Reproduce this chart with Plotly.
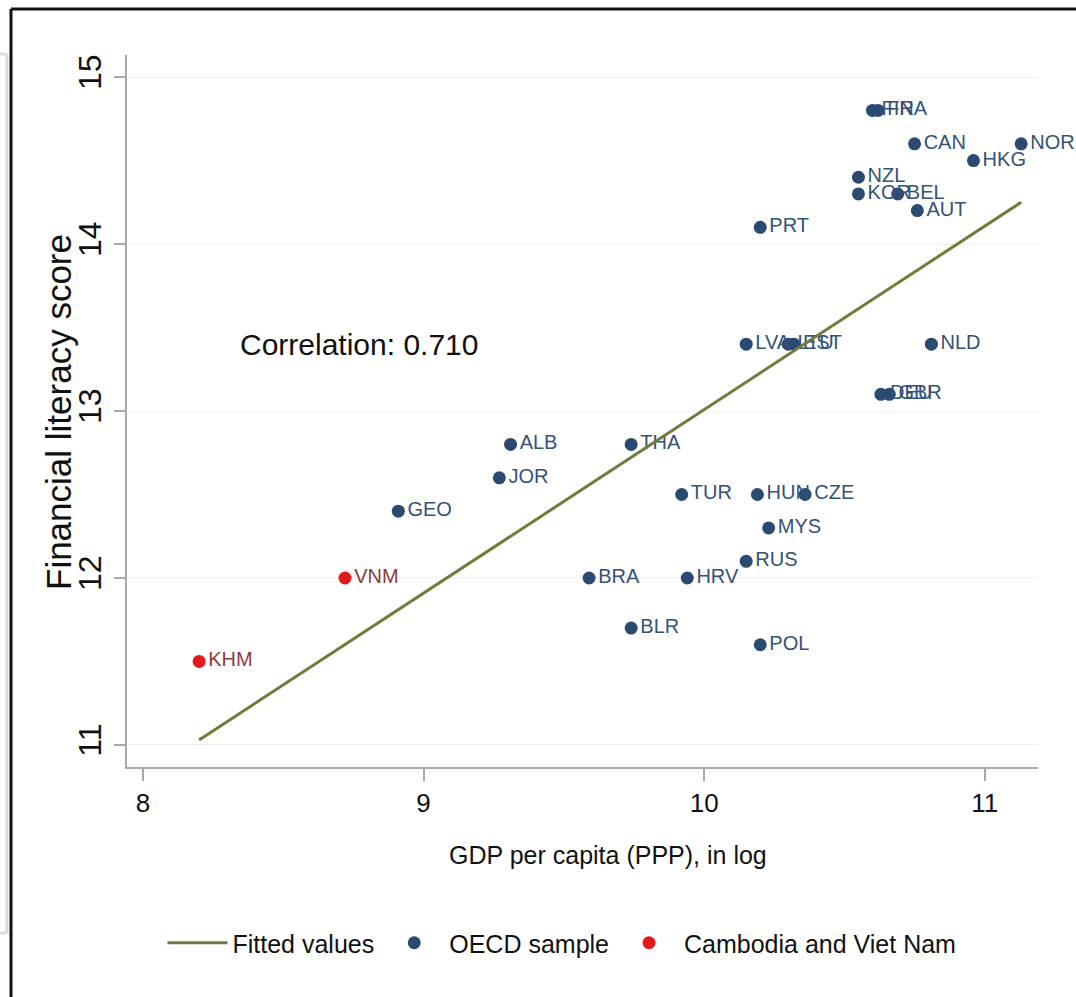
import plotly.graph_objects as go

# ---------------- data ----------------
oecd_codes = ["FIN", "FRA", "CAN", "HKG", "NOR", "NZL", "KOR", "BEL", "AUT", "PRT",
              "LVA", "LTU", "EST", "NLD", "DEU", "GBR", "ALB", "THA", "JOR", "GEO",
              "TUR", "HUN", "CZE", "MYS", "RUS", "BRA", "HRV", "BLR", "POL"]
oecd_gdp = [10.60, 10.62, 10.75, 10.96, 11.13, 10.55, 10.55, 10.69, 10.76, 10.20,
            10.15, 10.30, 10.32, 10.81, 10.63, 10.66, 9.31, 9.74, 9.27, 8.91,
            9.92, 10.19, 10.36, 10.23, 10.15, 9.59, 9.94, 9.74, 10.20]
oecd_score = [14.8, 14.8, 14.6, 14.5, 14.6, 14.4, 14.3, 14.3, 14.2, 14.1,
              13.4, 13.4, 13.4, 13.4, 13.1, 13.1, 12.8, 12.8, 12.6, 12.4,
              12.5, 12.5, 12.5, 12.3, 12.1, 12.0, 12.0, 11.7, 11.6]

kv_codes = ["VNM", "KHM"]
kv_gdp = [8.72, 8.20]
kv_score = [12.0, 11.5]

fit_gdp = [8.20, 11.13]
fit_score = [11.03, 14.25]

correlation_text = "Correlation: 0.710"
x_ticks = [8, 9, 10, 11]
y_ticks = [11, 12, 13, 14, 15]
x_title = "GDP per capita (PPP), in log"
y_title = "Financial literacy score"

# ---------------- styling ----------------
FONT = "Liberation Sans, Arial, sans-serif"
NAVY = "#2b4a72"
NAVY_TXT = "#34527a"
RED = "#e3191e"
RED_TXT = "#8e3b3b"
OLIVE = "#6f7c3b"
AXIS = "#a9a9a9"
INK = "#111111"

W, H = 1076, 997
L, R, T, B = 127, 38, 55, 230
PW, PH = W - L - R, H - T - B


def px(x):
    return (x - L) / PW


def py(y):
    return (H - B - y) / PH


fig = go.Figure()

fig.add_trace(go.Scatter(
    x=oecd_gdp, y=oecd_score, text=oecd_codes, mode="markers+text",
    textposition="middle right", cliponaxis=False,
    marker=dict(color=NAVY, size=13),
    textfont=dict(color=NAVY_TXT, size=20, family=FONT),
    name="OECD sample", legendrank=2))

fig.add_trace(go.Scatter(
    x=kv_gdp, y=kv_score, text=kv_codes, mode="markers+text",
    textposition="middle right", cliponaxis=False,
    marker=dict(color=RED, size=13),
    textfont=dict(color=RED_TXT, size=20, family=FONT),
    name="Cambodia and Viet Nam", legendrank=3))

fig.add_trace(go.Scatter(
    x=fit_gdp, y=fit_score, mode="lines",
    line=dict(color=OLIVE, width=3),
    name="Fitted values", legendrank=1))

fig.add_annotation(x=8.34, y=13.4, text=correlation_text, showarrow=False,
                   xanchor="left", yanchor="middle",
                   font=dict(size=30, color=INK, family=FONT))

# axis titles placed precisely
fig.add_annotation(xref="paper", yref="paper", x=px(59), y=py(412), text=y_title,
                   showarrow=False, textangle=-90, xanchor="center", yanchor="middle",
                   font=dict(size=35, color=INK, family=FONT))
fig.add_annotation(xref="paper", yref="paper", x=px(608), y=py(855), text=x_title,
                   showarrow=False, xanchor="center", yanchor="middle",
                   font=dict(size=25, color=INK, family=FONT))

shapes = [
    # outer black frame
    dict(type="line", xref="paper", yref="paper", x0=px(11), x1=px(1090), y0=py(9), y1=py(9),
         line=dict(color=INK, width=3)),
    dict(type="line", xref="paper", yref="paper", x0=px(11), x1=px(11), y0=py(9), y1=py(1010),
         line=dict(color=INK, width=3)),
    # grey box fragment at left
    dict(type="line", xref="paper", yref="paper", x0=px(-5), x1=px(7), y0=py(54), y1=py(54),
         line=dict(color="#dcdcdc", width=3)),
    dict(type="line", xref="paper", yref="paper", x0=px(7), x1=px(7), y0=py(54), y1=py(933),
         line=dict(color="#dcdcdc", width=3)),
    dict(type="line", xref="paper", yref="paper", x0=px(-5), x1=px(7), y0=py(933), y1=py(933),
         line=dict(color="#dcdcdc", width=3)),
]

fig.update_layout(
    width=W, height=H,
    margin=dict(l=L, r=R, t=T, b=B),
    paper_bgcolor="white", plot_bgcolor="white",
    font=dict(family=FONT, color=INK),
    shapes=shapes,
    showlegend=True,
    legend=dict(orientation="h", x=px(562), xanchor="center", y=py(943), yanchor="middle",
                font=dict(size=25, family=FONT, color=INK),
                itemwidth=60, bgcolor="rgba(0,0,0,0)"),
    xaxis=dict(range=[7.943, 11.19], tickvals=x_ticks, showgrid=False, zeroline=False,
               showline=True, linecolor=AXIS, linewidth=2,
               ticks="outside", ticklen=12, tickcolor=AXIS, tickwidth=2,
               tickfont=dict(size=26, family=FONT, color=INK)),
    yaxis=dict(range=[10.868, 15.132], tickvals=y_ticks, showgrid=True,
               gridcolor="#edf1f6", gridwidth=1, zeroline=False,
               showline=True, linecolor=AXIS, linewidth=2,
               ticks="outside", ticklen=11, tickcolor=AXIS, tickwidth=2,
               tickangle=-90,
               tickfont=dict(size=32, family=FONT, color=INK)),
)

fig.write_html("out.html", post_script="document.body.style.margin='0';",
               config={"displayModeBar": False})
